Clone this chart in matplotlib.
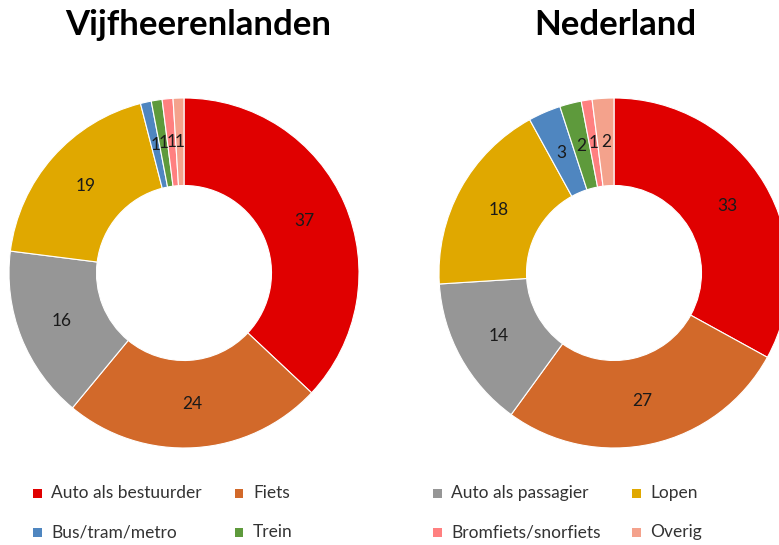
import numpy as np
import matplotlib.pyplot as plt

# ------------------------------------------------------------
# DATA
# ------------------------------------------------------------

modes = [
    "Auto als bestuurder", "Fiets", "Auto als passagier", "Lopen",
    "Bus/tram/metro", "Trein", "Bromfiets/snorfiets", "Overig",
]

vijfheerenlanden = [37, 24, 16, 19, 1, 1, 1, 1]
nederland = [33, 27, 14, 18, 3, 2, 1, 2]

titles = ["Vijfheerenlanden", "Nederland"]

colors = [
    "#E00000", "#D2692A", "#969696", "#E0A800",
    "#4F86C0", "#5E9A3C", "#FF8080", "#F4A28C",
]

# ------------------------------------------------------------
# FIGURE
# ------------------------------------------------------------

W, H = 779, 545
fig = plt.figure(figsize=(W / 100, H / 100), dpi=100)
plt.rcParams["font.family"] = ["Lato", "DejaVu Sans"]

R = 175  # outer radius in pixels


def donut(cx, cy, values, title, tx):
    ax = fig.add_axes([(cx - R) / W, (H - cy - R) / H, 2 * R / W, 2 * R / H])
    total = sum(values)
    ax.pie(
        values,
        colors=colors,
        startangle=90,
        counterclock=False,
        radius=1.0,
        autopct=lambda p: f"{p * total / 100:.0f}",
        pctdistance=0.75,
        textprops=dict(fontsize=12.5, color="#1a1a1a"),
        wedgeprops=dict(width=0.5, edgecolor="white", linewidth=0.8),
    )
    ax.set_xlim(-1, 1)
    ax.set_ylim(-1, 1)
    ax.set_aspect("equal")
    fig.text(tx / W, 1 - 25 / H, title, ha="center", va="center",
             fontsize=25, fontweight="bold", color="black")


donut(184, 273, vijfheerenlanden, titles[0], 198)
donut(614, 273, nederland, titles[1], 615)

# ------------------------------------------------------------
# LEGEND (two rows, four columns)
# ------------------------------------------------------------

col_x = [37, 239, 437, 636]
row_y = [493, 532]

for i, (label, color) in enumerate(zip(modes, colors)):
    row, col = divmod(i, 4)
    x = col_x[col]
    y = row_y[row]
    fig.patches.append(plt.Rectangle(
        ((x - 4.5) / W, 1 - (y + 4.5) / H), 9 / W, 9 / H,
        transform=fig.transFigure, facecolor=color, edgecolor="none"))
    fig.text((x + 14) / W, 1 - y / H, label, ha="left", va="center",
             fontsize=12.5, color="#333333")

fig.savefig("out.png", dpi=100)
